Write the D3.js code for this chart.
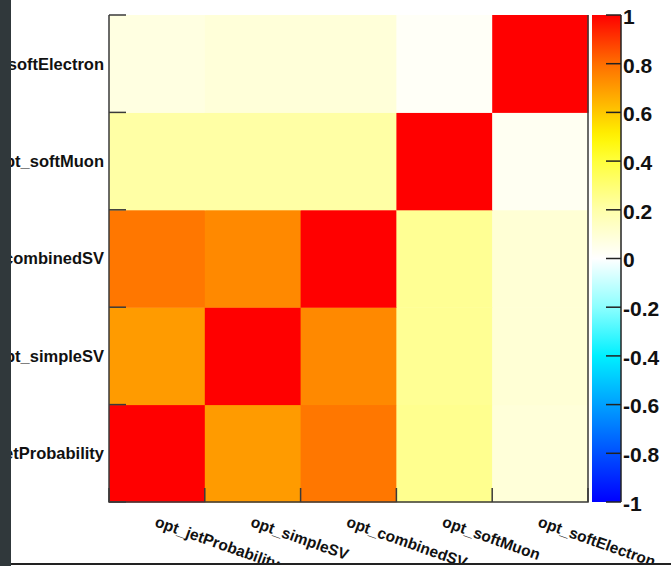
<!DOCTYPE html>
<html>
<head>
<meta charset="utf-8">
<script src="https://cdn.jsdelivr.net/npm/d3@7"></script>
<style>
  html, body { margin: 0; padding: 0; background: #fff; }
  svg { display: block; }
  text { font-family: "Liberation Sans", Arial, Helvetica, sans-serif; font-weight: bold; fill: #111; }
</style>
</head>
<body>
<svg id="chart" width="671" height="566"></svg>
<script>
// Tagger outputs, in axis order (x: left to right, y: bottom to top)
const categories = ["opt_jetProbability", "opt_simpleSV", "opt_combinedSV", "opt_softMuon", "opt_softElectron"];

// Correlation coefficients, one row per y category (columns follow x order)
const rowJetProbability = [1.00, 0.70, 0.78, 0.25, 0.09];
const rowSimpleSV       = [0.70, 1.00, 0.74, 0.24, 0.10];
const rowCombinedSV     = [0.78, 0.74, 1.00, 0.24, 0.10];
const rowSoftMuon       = [0.21, 0.21, 0.21, 1.00, 0.03];
const rowSoftElectron   = [0.07, 0.09, 0.09, 0.02, 1.00];
const matrix = [rowJetProbability, rowSimpleSV, rowCombinedSV, rowSoftMuon, rowSoftElectron];

// Palette axis
const zTicks = [-1, -0.8, -0.6, -0.4, -0.2, 0, 0.2, 0.4, 0.6, 0.8, 1];
const zTickLabels = ["-1", "-0.8", "-0.6", "-0.4", "-0.2", "0", "0.2", "0.4", "0.6", "0.8", "1"];

const svg = d3.select("#chart");
const W = 671, H = 566;
const plot = { left: 109, right: 588, top: 15, bottom: 502 };
const bar = { left: 592, right: 621 };

// Blue - cyan - white - yellow - orange - red palette
const color = d3.scaleLinear()
  .domain([-1, -0.8, -0.6, -0.4, -0.2, 0, 0.2, 0.4, 0.5, 0.6, 0.8, 1])
  .range(["#0000ff", "#0050ff", "#00a0ff", "#00f0ff", "#8cffff", "#ffffff",
          "#ffffaa", "#ffff3c", "#fff500", "#ffc800", "#ff6e00", "#ff0000"])
  .interpolate(d3.interpolateRgb)
  .clamp(true);

const x = d3.scaleBand().domain(categories).range([plot.left, plot.right]);
const y = d3.scaleBand().domain(categories).range([plot.bottom, plot.top]);
const z = d3.scaleLinear().domain([-1, 1]).range([plot.bottom, plot.top]);

svg.append("rect").attr("width", W).attr("height", H).attr("fill", "#fff");

// Cells
const cells = [];
matrix.forEach((row, i) => row.forEach((v, j) => cells.push({ col: categories[j], row: categories[i], v })));
svg.append("g").selectAll("rect").data(cells).join("rect")
  .attr("x", d => x(d.col))
  .attr("y", d => y(d.row))
  .attr("width", x.bandwidth() + 0.5)
  .attr("height", y.bandwidth() + 0.5)
  .attr("fill", d => color(d.v));

// Frame and tick marks
const frame = svg.append("g").attr("stroke", "#3a3a3a").attr("stroke-width", 1.5).attr("fill", "none");
frame.append("path").attr("d", `M${plot.left},${plot.top}V${plot.bottom}H${plot.right}V${plot.top}`);
const yEdges = categories.map(c => y(c)).concat([plot.bottom]);
frame.selectAll(".yt").data(yEdges).join("line")
  .attr("x1", plot.left).attr("x2", plot.left + 17)
  .attr("y1", d => d).attr("y2", d => d);
const xEdges = categories.map(c => x(c)).concat([plot.right]);
frame.selectAll(".xt").data(xEdges).join("line")
  .attr("x1", d => d).attr("x2", d => d)
  .attr("y1", plot.bottom).attr("y2", plot.bottom - 14);

// Y labels
svg.append("g").selectAll("text").data(categories).join("text")
  .attr("x", plot.left - 5)
  .attr("y", d => y(d) + y.bandwidth() / 2)
  .attr("dy", "0.36em")
  .attr("text-anchor", "end")
  .attr("font-size", 16.5)
  .text(d => d);

// X labels, slanted, starting under each column centre
const clip = svg.append("clipPath").attr("id", "xclip");
clip.append("rect").attr("x", 0).attr("y", 0).attr("width", W).attr("height", 563);
svg.append("g").attr("clip-path", "url(#xclip)").selectAll("text").data(categories).join("text")
  .attr("transform", d => `translate(${x(d) + x.bandwidth() / 2 - 3},${plot.bottom + 24}) rotate(19.5)`)
  .attr("font-size", 15.5)
  .text(d => d);

// Colour bar
const defs = svg.append("defs");
const grad = defs.append("linearGradient").attr("id", "zgrad")
  .attr("x1", 0).attr("y1", 1).attr("x2", 0).attr("y2", 0);
d3.range(0, 1.0001, 0.02).forEach(t => {
  grad.append("stop").attr("offset", t).attr("stop-color", color(-1 + 2 * t));
});
svg.append("rect")
  .attr("x", bar.left).attr("y", plot.top)
  .attr("width", bar.right - bar.left).attr("height", plot.bottom - plot.top)
  .attr("fill", "url(#zgrad)");

const zAxis = svg.append("g").attr("stroke", "#222").attr("stroke-width", 1.5);
zAxis.append("line").attr("x1", bar.right).attr("x2", bar.right)
  .attr("y1", plot.top).attr("y2", plot.bottom);
zAxis.selectAll(".zt").data(zTicks).join("line")
  .attr("x1", bar.right - 15).attr("x2", bar.right)
  .attr("y1", d => z(d)).attr("y2", d => z(d));

svg.append("g").selectAll("text").data(zTicks).join("text")
  .attr("x", bar.right + 2)
  .attr("y", d => z(d))
  .attr("dy", "0.42em")
  .attr("font-size", 21)
  .text((d, i) => zTickLabels[i]);

// Window edge: dark side strip and bottom rule
svg.append("rect").attr("x", 0).attr("y", 0).attr("width", 11).attr("height", H).attr("fill", "#30383b");
svg.append("line").attr("x1", 11).attr("x2", W).attr("y1", 564).attr("y2", 564)
  .attr("stroke", "#222").attr("stroke-width", 2);
</script>
</body>
</html>
